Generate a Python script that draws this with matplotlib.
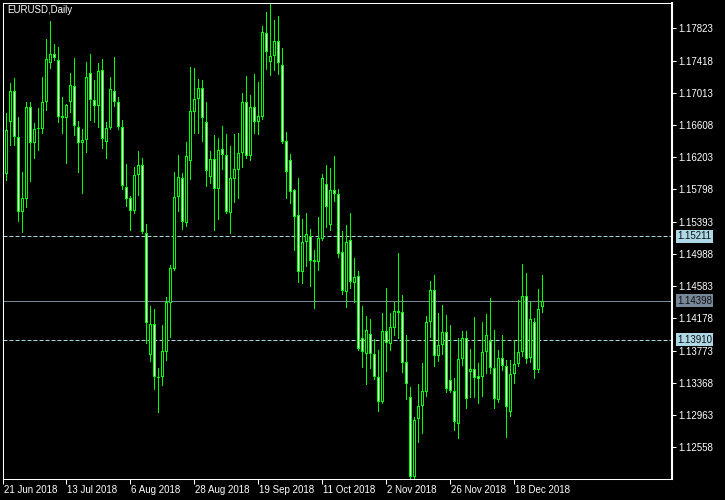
import numpy as np
import pandas as pd
import matplotlib
matplotlib.use('Agg')
import matplotlib.pyplot as plt
import matplotlib.transforms as mtransforms

plt.rcParams['font.family'] = ['Liberation Sans', 'DejaVu Sans']

# EURUSD daily bars, first bar is Fri 22 Jun 2018
first_day = '2018-06-22'
opens = [1.15992, 1.16646, 1.17035, 1.16458, 1.15515, 1.15678, 1.16834, 1.16382, 1.16558, 1.16558,
         1.16897, 1.17387, 1.17500, 1.17425, 1.16696, 1.16696, 1.16897, 1.17098, 1.16583, 1.16382,
         1.16420, 1.17262, 1.16922, 1.16847, 1.17299, 1.16395, 1.16571, 1.17035, 1.16897, 1.16583,
         1.15829, 1.15691, 1.15528, 1.15980, 1.16105, 1.15251, 1.13718, 1.14107, 1.13442, 1.13442,
         1.13756, 1.14371, 1.14799, 1.15703, 1.15942, 1.15377, 1.16156, 1.16771, 1.16935, 1.17073,
         1.16646, 1.15955, 1.16181, 1.15804, 1.16307, 1.16232, 1.15502, 1.15930, 1.16043, 1.16257,
         1.16897, 1.16219, 1.16834, 1.16646, 1.16709, 1.17764, 1.17400, 1.17475, 1.17664, 1.17362,
         1.16407, 1.16169, 1.15791, 1.15477, 1.14761, 1.15138, 1.15213, 1.14912, 1.14887, 1.15176,
         1.15867, 1.15352, 1.15791, 1.15741, 1.15012, 1.14510, 1.15163, 1.14623, 1.14711, 1.13932,
         1.13731, 1.13982, 1.13731, 1.13442, 1.13128, 1.14019, 1.13856, 1.14057, 1.14271, 1.14258,
         1.13630, 1.13190, 1.12185, 1.12914, 1.13077, 1.13253, 1.14133, 1.14535, 1.13706, 1.13844,
         1.14007, 1.13404, 1.13266, 1.12851, 1.13668, 1.13932, 1.13504, 1.13542, 1.13454, 1.13442,
         1.13756, 1.13894, 1.13555, 1.13153, 1.13680, 1.13580, 1.13002, 1.13479, 1.13605, 1.13756,
         1.14459, 1.13680, 1.14133, 1.13530, 1.14321]
highs = [1.16759, 1.17136, 1.17199, 1.16709, 1.16017, 1.16897, 1.16897, 1.16633, 1.16822, 1.17211,
         1.17689, 1.17915, 1.17626, 1.17588, 1.16960, 1.16872, 1.17262, 1.17450, 1.16658, 1.16558,
         1.17400, 1.17500, 1.17174, 1.17387, 1.17438, 1.16646, 1.17211, 1.17463, 1.16960, 1.16671,
         1.16118, 1.15716, 1.16080, 1.16282, 1.16194, 1.15364, 1.14333, 1.14296, 1.13555, 1.14095,
         1.14447, 1.14849, 1.16017, 1.16232, 1.16005, 1.16395, 1.17337, 1.17324, 1.17186, 1.17174,
         1.16897, 1.16282, 1.16483, 1.16445, 1.16596, 1.16495, 1.16345, 1.16495, 1.16508, 1.17010,
         1.17224, 1.16985, 1.17249, 1.17149, 1.17852, 1.18028, 1.18141, 1.17928, 1.17978, 1.17576,
         1.16520, 1.16244, 1.15804, 1.15942, 1.15427, 1.15502, 1.15301, 1.15038, 1.15452, 1.15992,
         1.16105, 1.16068, 1.16219, 1.15804, 1.15276, 1.15352, 1.15502, 1.14937, 1.14774, 1.14333,
         1.14208, 1.14170, 1.13919, 1.13781, 1.14246, 1.14560, 1.14246, 1.14384, 1.15000, 1.14472,
         1.13969, 1.13316, 1.12939, 1.13354, 1.13618, 1.14208, 1.14648, 1.14723, 1.14246, 1.14346,
         1.14220, 1.14095, 1.13429, 1.13932, 1.14019, 1.14019, 1.13793, 1.14195, 1.13618, 1.14133,
         1.14233, 1.14434, 1.14032, 1.13781, 1.13969, 1.13655, 1.13655, 1.13906, 1.14409, 1.14862,
         1.14749, 1.14384, 1.14183, 1.14547, 1.14723]
lows = [1.15917, 1.16357, 1.16357, 1.15402, 1.15264, 1.15578, 1.15905, 1.16194, 1.16294, 1.16508,
        1.16797, 1.17324, 1.17425, 1.16646, 1.16508, 1.16131, 1.16771, 1.16483, 1.16017, 1.15754,
        1.16269, 1.16671, 1.16646, 1.16583, 1.16319, 1.16194, 1.16558, 1.16847, 1.16558, 1.15804,
        1.15590, 1.15289, 1.15502, 1.15729, 1.15251, 1.13869, 1.13643, 1.13291, 1.13002, 1.13341,
        1.13655, 1.13944, 1.14786, 1.15528, 1.15301, 1.15339, 1.15930, 1.16508, 1.16508, 1.16407,
        1.15842, 1.15879, 1.15289, 1.15427, 1.16055, 1.15502, 1.15251, 1.15641, 1.15691, 1.16080,
        1.16194, 1.16169, 1.16508, 1.16495, 1.16683, 1.17312, 1.17237, 1.17299, 1.17249, 1.16382,
        1.15691, 1.15628, 1.15038, 1.14636, 1.14623, 1.14837, 1.14585, 1.14308, 1.14786, 1.15163,
        1.15327, 1.15289, 1.15653, 1.14950, 1.14485, 1.14321, 1.14560, 1.14384, 1.13781, 1.13567,
        1.13354, 1.13555, 1.13416, 1.13014, 1.13115, 1.13517, 1.13781, 1.13969, 1.13932, 1.13504,
        1.13165, 1.12172, 1.12172, 1.12625, 1.12738, 1.13203, 1.13944, 1.13580, 1.13643, 1.13731,
        1.13253, 1.13253, 1.12776, 1.12675, 1.13592, 1.13052, 1.13190, 1.13190, 1.13115, 1.13203,
        1.13492, 1.13492, 1.13052, 1.13128, 1.13530, 1.12688, 1.12952, 1.13366, 1.13580, 1.13706,
        1.13618, 1.13630, 1.13429, 1.13504, 1.14258]
closes = [1.16545, 1.17035, 1.16458, 1.15515, 1.15691, 1.16834, 1.16382, 1.16558, 1.16571, 1.16897,
          1.17438, 1.17500, 1.17450, 1.16709, 1.16721, 1.16860, 1.17111, 1.16596, 1.16382, 1.16420,
          1.17211, 1.16922, 1.16847, 1.17287, 1.16432, 1.16571, 1.17061, 1.16897, 1.16583, 1.15842,
          1.15678, 1.15528, 1.15980, 1.16105, 1.15264, 1.14120, 1.14107, 1.13442, 1.13429, 1.13768,
          1.14384, 1.14812, 1.15703, 1.15955, 1.15389, 1.16219, 1.16784, 1.16935, 1.17073, 1.16696,
          1.16030, 1.16181, 1.15804, 1.16294, 1.16232, 1.15515, 1.15942, 1.16055, 1.16257, 1.16897,
          1.16219, 1.16834, 1.16646, 1.16721, 1.17777, 1.17526, 1.17475, 1.17664, 1.17387, 1.16395,
          1.16017, 1.15766, 1.15452, 1.14761, 1.15138, 1.15238, 1.14899, 1.14887, 1.15188, 1.15942,
          1.15578, 1.15791, 1.15741, 1.14987, 1.14522, 1.15138, 1.14636, 1.14698, 1.13793, 1.13756,
          1.14032, 1.13731, 1.13442, 1.13128, 1.14019, 1.13869, 1.14070, 1.14271, 1.14246, 1.13618,
          1.13354, 1.12185, 1.12901, 1.13077, 1.13266, 1.14133, 1.14535, 1.13706, 1.13844, 1.14007,
          1.13291, 1.13266, 1.12876, 1.13668, 1.13932, 1.13165, 1.13542, 1.13429, 1.13416, 1.13756,
          1.13969, 1.13555, 1.13165, 1.13680, 1.13580, 1.13065, 1.13479, 1.13605, 1.13756, 1.14459,
          1.13668, 1.14170, 1.13530, 1.14296, 1.14398]

price_ticks = [1.17823, 1.17418, 1.17013, 1.16608, 1.16203, 1.15798, 1.15393,
               1.14988, 1.14583, 1.14178, 1.13773, 1.13368, 1.12963, 1.12558]
date_labels = ['21 Jun 2018', '13 Jul 2018', '6 Aug 2018', '28 Aug 2018', '19 Sep 2018',
               '11 Oct 2018', '2 Nov 2018', '26 Nov 2018', '18 Dec 2018']
levels = [1.15211, 1.13910]   # dashed lines
bid = 1.14398

o = np.array(opens); h = np.array(highs); l = np.array(lows); c = np.array(closes)
x = np.arange(len(o))
bear = c < o

fig = plt.figure(figsize=(7.25, 5), dpi=100, facecolor='black')
ax = fig.add_axes([2.5/725, 1-479/500, 669.5/725, 476.3/500], facecolor='black')
ymin, ymax = 1.12160, 1.18145
ax.set_xlim(-0.875, 166.5)
ax.set_ylim(ymin, ymax)
px = (ymax - ymin) / 476.3      # one screen pixel in price units

green = '#00FF00'
ax.vlines(x, l, h, color=green, lw=0.72, antialiased=False, zorder=2)
# body: green frame 3px wide, 1px wide inner fill (white = bear, black = bull)
lo = np.minimum(o, c)
hi = np.maximum(o, c)
ax.bar(x, np.maximum(hi - lo, px), bottom=lo, width=0.75, color=green,
       linewidth=0, antialiased=False, zorder=3)
inner = np.maximum(hi - lo - 2 * px, 0)
ax.bar(x, inner, bottom=lo + px, width=0.25, color=np.where(bear, 'white', 'black'),
       linewidth=0, antialiased=False, zorder=4)

for lv in levels:
    ax.axhline(lv, color='#ADD8E6', lw=0.72, linestyle=(0, (4, 2)), zorder=1)
ax.axhline(bid, color='#778899', lw=0.72, zorder=1)

# axes styling like a MT4 chart
for s in ax.spines.values():
    s.set_color('white')
    s.set_linewidth(0.75)
ax.spines['right'].set_linewidth(1.5)

ax.yaxis.tick_right()
ax.set_yticks(price_ticks)
ax.set_yticklabels(['%.5f' % v for v in price_ticks])
ax.tick_params(axis='y', colors='white', length=2.9, width=0.75, pad=1.5, labelsize=7)

tick_pos = np.busday_count(first_day, pd.to_datetime(date_labels).values.astype('datetime64[D]'))
ax.set_xticks(tick_pos)
ax.set_xticklabels(date_labels)
ax.tick_params(axis='x', colors='white', length=3.6, width=0.75, pad=1, labelsize=7)
offset = mtransforms.ScaledTranslation(1/100, 0, fig.dpi_scale_trans)
for lab in ax.get_xticklabels():
    lab.set_ha('left')
    lab.set_transform(lab.get_transform() + offset)

# price labels on the right scale
ytrans = mtransforms.blended_transform_factory(ax.transAxes, ax.transData)
for lv in levels:
    ax.text(1 + 5/669.5, lv, '%.5f' % lv, transform=ytrans, fontsize=7, color='#101010',
            va='center', ha='left', clip_on=False,
            bbox=dict(boxstyle='square,pad=0.15', fc='#ADD8E6', ec='none'))
ax.text(1 + 5/669.5, bid, '%.5f' % bid, transform=ytrans, fontsize=7, color='#101010',
        va='center', ha='left', clip_on=False,
        bbox=dict(boxstyle='square,pad=0.15', fc='#778899', ec='none'))

ax.text(0.0067, 0.985, 'EURUSD,Daily', transform=ax.transAxes, color='white',
        fontsize=7, va='center', ha='left')

fig.savefig('out.png', dpi=100, facecolor='black')
